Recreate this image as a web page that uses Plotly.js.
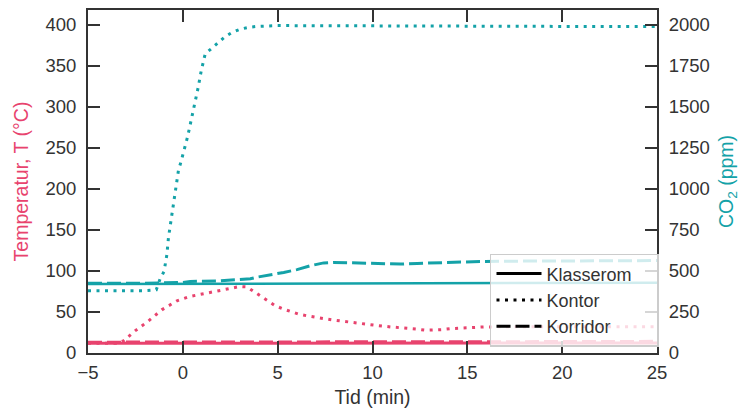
<!DOCTYPE html>
<html>
<head>
<meta charset="utf-8">
<script src="https://cdn.plot.ly/plotly-3.0.1.min.js"></script>
<style>html,body{margin:0;padding:0;background:#fff;}#chart{width:742px;height:412px;}</style>
</head>
<body>
<div id="chart"></div>
<script>
// ---- data ----
var legendNames = ['Klasserom', 'Kontor', 'Korridor'];

// Temperature (°C)
var tKlasseromT = [-5, 0, 5, 10, 15, 20, 25];
var vKlasseromT = [11.8, 11.8, 11.9, 12, 12.2, 12.2, 12.3];

var tKorridorT = [-5, 0, 5, 10, 15, 20, 25];
var vKorridorT = [13.2, 13.2, 13.3, 13.5, 13.7, 13.9, 14.2];

var tKontorT = [-5, -3.5, -3.13, -2.52, -1.81, -1.11, -0.31, 0.39, 1.27, 2.15, 3.0, 3.38, 3.73, 4.09, 4.44, 4.88, 5.32, 5.67, 6.11, 6.55, 6.99, 7.43, 7.87, 8.31, 8.75, 9.63, 10.07, 10.95, 11.48, 11.92, 12.36, 12.8, 13.24, 13.68, 14.12, 15, 15.9, 18, 20, 22, 25];
var vKontorT = [12, 12, 14.7, 27, 39, 52.6, 63.6, 69, 73, 77, 81, 80.5, 75, 69.7, 63.6, 57.5, 53.4, 50.5, 47.3, 45.3, 43.2, 42, 40.4, 39, 37.9, 35, 34, 31.8, 31, 29.7, 29, 27.7, 27.7, 28.5, 29.7, 31, 31.8, 32, 32, 32, 32];

// CO2 (ppm)
var tKlasseromC = [-5, 0, 5, 10, 15, 20, 25];
var vKlasseromC = [420, 421, 423, 425, 426, 427, 428];

var tKontorC = [-5, -2, -1.4, -1.2, -0.99, -0.84, -0.76, -0.63, -0.55, -0.44, -0.35, -0.23, -0.1, 0.03, 0.25, 0.44, 0.64, 0.81, 0.97, 1.09, 1.18, 1.53, 1.88, 2.2, 2.59, 3.03, 3.5, 3.9, 5, 10, 15, 20, 25];
var vKontorC = [380, 380, 385, 451, 497, 600, 701, 803, 854, 956, 1011, 1113, 1164, 1215, 1317, 1419, 1521, 1619, 1720, 1772, 1823, 1857, 1894, 1925, 1953, 1973, 1985, 1990, 1995, 1992, 1990, 1990, 1990];

var tKorridorC = [-5, -2, 0, 0.39, 1.97, 2.85, 3.56, 3.9, 4.6, 5.32, 6.02, 6.73, 7.43, 7.96, 8.84, 9.72, 10.6, 11.48, 12.36, 13.24, 14.12, 15, 15.9, 18, 20, 22, 25];
var vKorridorC = [425, 425, 430, 436, 440, 446, 452, 462, 475, 491, 508, 532, 549, 552, 550, 546, 542, 542, 546, 550, 552, 556, 558, 560, 561, 562, 563];

// ---- styles ----
var RED = '#E8436E';
var TEAL = '#14A2A8';
var AX = '#333333';
var DOT = '3px,5.5px';
var DASH = '14px,5px';
var FAM = 'Liberation Sans, Arial, sans-serif';

var traces = [
  {x: tKlasseromT, y: vKlasseromT, mode: 'lines', line: {color: RED, width: 3}, showlegend: false, hoverinfo: 'skip'},
  {x: tKorridorT, y: vKorridorT, mode: 'lines', line: {color: RED, width: 3, dash: DASH}, showlegend: false, hoverinfo: 'skip'},
  {x: tKontorT, y: vKontorT, mode: 'lines', line: {color: RED, width: 3, dash: DOT}, showlegend: false, hoverinfo: 'skip'},
  {x: tKlasseromC, y: vKlasseromC, yaxis: 'y2', mode: 'lines', line: {color: TEAL, width: 2.5}, showlegend: false, hoverinfo: 'skip'},
  {x: tKontorC, y: vKontorC, yaxis: 'y2', mode: 'lines', line: {color: TEAL, width: 3, dash: DOT}, showlegend: false, hoverinfo: 'skip'},
  {x: tKorridorC, y: vKorridorC, yaxis: 'y2', mode: 'lines', line: {color: TEAL, width: 3, dash: DASH}, showlegend: false, hoverinfo: 'skip'}
];
var legendDash = ['solid', DOT, DASH];
var PAD = '\u00a0\u00a0\u00a0\u00a0';
legendNames.forEach(function(n, i) {
  traces.push({x: [null], y: [null], mode: 'lines', name: n + (i === 0 ? PAD : ''), legendgroup: 'g' + i,
    line: {color: '#000', width: 3, dash: legendDash[i]}, showlegend: true});
});

var tickFont = {family: FAM, size: 18.5, color: '#333'};

var layout = {
  width: 742, height: 412,
  margin: {l: 88, r: 85, t: 10, b: 59},
  paper_bgcolor: '#fff', plot_bgcolor: '#fff',
  font: {family: FAM, size: 18, color: '#333'},
  showlegend: true,
  legend: {
    x: 0.7065, y: 0.289, xanchor: 'left', yanchor: 'top',
    bgcolor: 'rgba(255,255,255,0.8)', bordercolor: '#cccccc', borderwidth: 1.5,
    font: {family: FAM, size: 18, color: '#333'},
    tracegroupgap: 0, itemwidth: 45
  },
  xaxis: {
    range: [-5, 25], dtick: 5, tick0: 0,
    ticks: 'inside', ticklen: 12, tickwidth: 2, tickcolor: AX,
    showline: true, linewidth: 2, linecolor: AX, mirror: 'ticks',
    showgrid: false, zeroline: false, tickfont: tickFont, ticklabelstandoff: 2,
    title: {text: 'Tid (min)', font: {family: FAM, size: 19.5, color: '#333'}, standoff: 8}
  },
  yaxis: {
    range: [0, 418], dtick: 50, tick0: 0,
    ticks: 'inside', ticklen: 12, tickwidth: 2, tickcolor: AX,
    showline: true, linewidth: 2, linecolor: AX,
    showgrid: false, zeroline: false, tickfont: tickFont, ticklabelstandoff: 6,
    title: {text: 'Temperatur, T (°C)', font: {family: FAM, size: 19.5, color: RED}, standoff: 12}
  },
  yaxis2: {
    overlaying: 'y', side: 'right',
    range: [0, 2090], dtick: 250, tick0: 0,
    ticks: 'inside', ticklen: 12, tickwidth: 2, tickcolor: AX,
    showline: true, linewidth: 2, linecolor: AX,
    showgrid: false, zeroline: false, tickfont: tickFont, ticklabelstandoff: 6,
    title: {text: 'CO<sub>2</sub> (ppm)', font: {family: FAM, size: 19.5, color: TEAL}, standoff: 10}
  }
};

Plotly.newPlot('chart', traces, layout, {displayModeBar: false, staticPlot: true});
</script>
</body>
</html>
